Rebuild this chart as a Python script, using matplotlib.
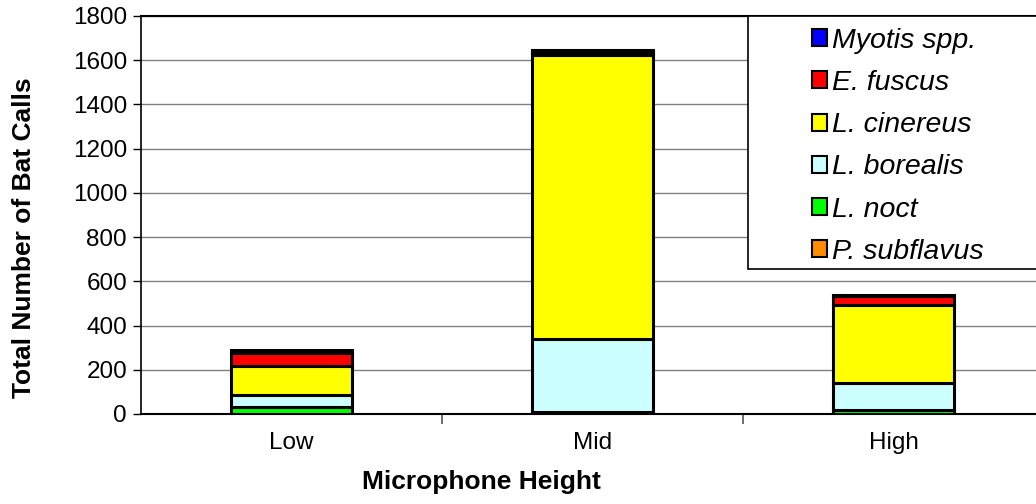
import numpy as np
import matplotlib
matplotlib.use('Agg')
import matplotlib.pyplot as plt
from matplotlib.patches import Rectangle

plt.rcParams['font.family'] = ['Liberation Sans', 'DejaVu Sans']

# dados
alturas = ['Low', 'Mid', 'High']
especies = ['P. subflavus', 'L. noct', 'L. borealis', 'L. cinereus', 'E. fuscus', 'Myotis spp.']
p_subflavus = [2, 2, 2]
l_noct = [30, 8, 18]
l_borealis = [54, 328, 120]
l_cinereus = [131, 1286, 355]
e_fuscus = [60, 8, 39]
myotis = [12, 15, 4]
cores = ['#FF8C00', '#00FF00', '#CCFFFF', '#FFFF00', '#FF0000', '#0000FF']

valores = [p_subflavus, l_noct, l_borealis, l_cinereus, e_fuscus, myotis]

fig = plt.figure(figsize=(10.36, 5.04), dpi=100)
ax = fig.add_axes([141/1036, 1 - 414/504, (1036 - 141)/1036, (414 - 16)/504])

x = np.arange(len(alturas))
base = np.zeros(len(alturas))
barras = []
for nome, vals, cor in zip(especies, valores, cores):
    b = ax.bar(x, vals, width=0.4, bottom=base, color=cor, edgecolor='black',
               linewidth=2.2, label=nome, zorder=3)
    barras.append(b)
    base = base + np.array(vals)

ax.set_ylim(0, 1800)
ax.set_xlim(-0.5, -0.5 + 895/301)
ax.set_yticks(np.arange(0, 1801, 200))
ax.set_xticks(x)
ax.set_xticklabels(alturas)
ax.set_xticks([0.5, 1.5], minor=True)
ax.tick_params(axis='x', which='major', length=0, labelsize=17.5, pad=13)
ax.tick_params(axis='x', which='minor', length=7, width=1.2, color='#555555')
ax.tick_params(axis='y', length=6, width=1, labelsize=17.5, pad=4)

ax.grid(axis='y', color='#808080', linewidth=1, zorder=0)
ax.spines['top'].set_visible(False)
ax.spines['right'].set_visible(False)
ax.spines['left'].set_linewidth(1.2)
ax.spines['bottom'].set_linewidth(1.5)
ax.axhline(1800, color='black', linewidth=1.5, zorder=2, clip_on=False)

ax.set_xlabel('Microphone Height', fontsize=19, fontweight='bold')
ax.xaxis.set_label_coords(481/1036, 1 - 482/504, transform=fig.transFigure)
ax.xaxis.label.set_va('center')
ax.set_ylabel('Total Number of Bat Calls', fontsize=19, fontweight='bold')
ax.yaxis.set_label_coords(24/1036, 1 - 238/504, transform=fig.transFigure)
ax.yaxis.label.set_va('center')

# caixa da legenda
caixa = Rectangle((748/1036, 1 - 269/504), 300/1036, 253/504,
                  transform=fig.transFigure, facecolor='white',
                  edgecolor='black', linewidth=1.2, zorder=5, clip_on=False)
ax.add_patch(caixa)
leg = ax.legend(barras[::-1], especies[::-1], loc='upper left',
                bbox_to_anchor=(806/1036, 1 - 22/504), bbox_transform=fig.transFigure,
                frameon=False, prop={'size': 20.5, 'style': 'italic'},
                handlelength=0.55, handleheight=0.55, handletextpad=0.15,
                labelspacing=0.57, borderaxespad=0, borderpad=0.2)
leg.set_zorder(6)
for h in leg.legend_handles:
    h.set_linewidth(1.5)

fig.savefig('out.png', dpi=100)
